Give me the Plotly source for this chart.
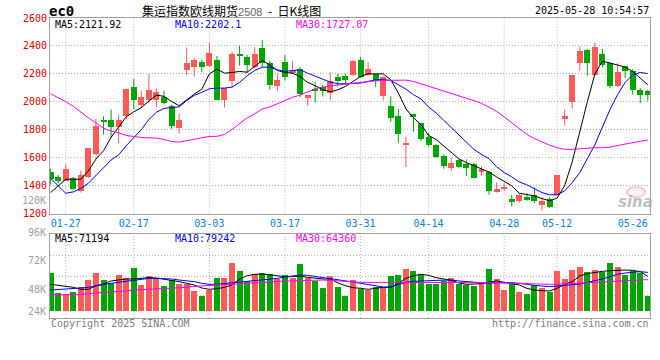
import plotly.graph_objects as go

# ---------------- data ----------------
open_ = [1500, 1459, 1433, 1452, 1360, 1462, 1626, 1873, 1873, 1818,
         1896, 2108, 1980, 2010, 2010, 2034, 1972, 1811, 2231, 2248,
         2286, 2257, 2300, 2015, 2146, 2343, 2319, 2248, 2386, 2276,
         2115, 2286, 2205, 2236, 2034, 2091, 2105, 2063, 2174, 2188,
         2193, 2300, 2193, 2200, 2039, 1972, 1900, 1694, 1915, 1849,
         1747, 1690, 1611, 1528, 1580, 1557, 1557, 1497, 1500, 1355,
         1374, 1303, 1291, 1319, 1334, 1262, 1307, 1334, 1877, 1996,
         2281, 2371, 2193, 2343, 2276, 2115, 2257, 2217, 2086, 2074]
high = [1521, 1478, 1552, 1462, 1507, 1666, 1877, 1896, 1944, 1908,
        2094, 2165, 2080, 2198, 2094, 2080, 1980, 1913, 2388, 2314,
        2300, 2424, 2329, 2098, 2360, 2400, 2336, 2390, 2443, 2295,
        2200, 2336, 2293, 2248, 2046, 2141, 2122, 2212, 2200, 2200,
        2300, 2319, 2283, 2200, 2181, 2039, 1950, 1750, 1915, 1849,
        1778, 1694, 1623, 1600, 1588, 1588, 1564, 1540, 1504, 1421,
        1417, 1334, 1345, 1345, 1386, 1315, 1315, 1476, 1944, 2193,
        2395, 2378, 2424, 2378, 2276, 2276, 2257, 2233, 2098, 2086]
low = [1407, 1417, 1433, 1369, 1350, 1455, 1620, 1766, 1742, 1705,
       1873, 1944, 1956, 1990, 1963, 1980, 1806, 1773, 2188, 2181,
       2210, 2250, 2010, 1960, 2105, 2260, 2205, 2240, 2248, 2086,
       2080, 2153, 2200, 2032, 1972, 1996, 2039, 2013, 2110, 2122,
       2186, 2170, 2186, 2105, 2010, 1856, 1706, 1533, 1785, 1720,
       1678, 1600, 1521, 1504, 1528, 1469, 1450, 1469, 1334, 1350,
       1362, 1250, 1279, 1291, 1274, 1219, 1238, 1334, 1832, 1951,
       2222, 2188, 2188, 2248, 2098, 2105, 2170, 2051, 1991, 2008]
close = [1447, 1433, 1521, 1374, 1478, 1666, 1830, 1854, 1818, 1873,
         2094, 2010, 2034, 2086, 2067, 1991, 1825, 1868, 2281, 2300,
         2248, 2348, 2015, 2098, 2343, 2331, 2267, 2343, 2276, 2122,
         2158, 2181, 2229, 2058, 2046, 2082, 2074, 2150, 2146, 2158,
         2293, 2181, 2236, 2146, 2181, 1884, 1770, 1701, 1891, 1730,
         1694, 1604, 1540, 1559, 1533, 1528, 1452, 1516, 1362, 1374,
         1390, 1279, 1334, 1298, 1291, 1291, 1250, 1476, 1900, 2193,
         2367, 2281, 2395, 2260, 2115, 2210, 2224, 2082, 2046, 2046]

ma5 = [1350, 1398, 1445, 1445, 1445, 1505, 1590, 1650, 1745, 1818,
       1893, 1928, 1958, 2005, 2048, 2039, 2002, 1972, 2015, 2055,
       2090, 2200, 2234, 2205, 2210, 2217, 2212, 2253, 2295, 2264,
       2224, 2210, 2205, 2181, 2139, 2115, 2086, 2072, 2086, 2110,
       2146, 2181, 2200, 2200, 2200, 2158, 2063, 1950, 1885, 1837,
       1759, 1730, 1683, 1640, 1592, 1564, 1540, 1521, 1497, 1462,
       1433, 1398, 1345, 1334, 1326, 1307, 1291, 1310, 1400, 1570,
       1790, 2000, 2200, 2290, 2278, 2264, 2248, 2217, 2170, 2122]
ma10 = [1452, 1398, 1345, 1355, 1379, 1417, 1476, 1528, 1583, 1620,
        1685, 1742, 1801, 1873, 1925, 1953, 1960, 1963, 2008, 2046,
        2067, 2093, 2098, 2098, 2105, 2139, 2186, 2224, 2248, 2248,
        2229, 2217, 2224, 2229, 2205, 2181, 2162, 2141, 2129, 2129,
        2129, 2134, 2146, 2158, 2158, 2153, 2122, 2091, 2051, 2020,
        1963, 1920, 1868, 1816, 1763, 1706, 1659, 1623, 1592, 1535,
        1493, 1462, 1426, 1405, 1379, 1350, 1334, 1334, 1362, 1421,
        1493, 1588, 1692, 1820, 1944, 2051, 2139, 2193, 2210, 2202]
ma30 = [2058, 2032, 2001, 1968, 1925, 1885, 1849, 1811, 1790, 1778,
        1759, 1749, 1744, 1742, 1740, 1730, 1716, 1711, 1721, 1730,
        1742, 1752, 1752, 1766, 1801, 1846, 1885, 1913, 1949, 1963,
        1987, 2010, 2032, 2048, 2072, 2094, 2105, 2110, 2120, 2127,
        2134, 2141, 2146, 2150, 2153, 2155, 2158, 2155, 2146, 2129,
        2115, 2098, 2079, 2063, 2046, 2027, 2008, 1989, 1963, 1932,
        1892, 1849, 1806, 1766, 1737, 1711, 1690, 1671, 1659, 1659,
        1664, 1668, 1671, 1671, 1675, 1687, 1697, 1706, 1716, 1727]

volume = [78600, 37600, 34900, 38400, 49200, 63600, 78600, 63600, 58100, 73900,
          67100, 88900, 53400, 72400, 67100, 51900, 63600, 56000, 56000, 41700,
          31400, 43100, 68300, 68300, 99100, 82700, 62200, 75300, 78600, 75900,
          65000, 73900, 68300, 97100, 67100, 62200, 47800, 72400, 49900, 31400,
          63600, 45100, 43100, 49900, 47800, 71800, 73900, 86200, 82100, 75300,
          55400, 55400, 62200, 67100, 55400, 53400, 51300, 58100, 86200, 65700,
          43100, 55400, 39600, 34900, 53400, 46600, 39600, 82700, 65700, 84100,
          90300, 80600, 84100, 79400, 99100, 90300, 73900, 82700, 77400, 31400]
vol_ma5 = [54700, 52700, 52000, 48600, 44500, 44500, 52000, 55400, 61600, 64300,
           65700, 65700, 67700, 68400, 67700, 65700, 62200, 60200, 56800, 53400,
           47200, 44500, 45800, 48600, 53400, 65700, 72500, 75200, 75900, 73900,
           71100, 70400, 70400, 71800, 69100, 67000, 65700, 65700, 57500, 52000,
           47900, 46500, 44500, 46500, 48600, 48600, 56800, 67000, 72500, 75200,
           73200, 68400, 65000, 62900, 57500, 54700, 55400, 56100, 59500, 61600,
           58800, 56100, 53400, 46500, 43100, 41700, 41000, 46500, 54700, 60200,
           71800, 76600, 79300, 81400, 82800, 84100, 84100, 83400, 80700, 71200]
vol_ma10 = [43100, 43800, 44500, 46500, 47200, 48600, 52000, 54000, 56800, 58800,
            60900, 63600, 65700, 67000, 67000, 66400, 65700, 63600, 62200, 60200,
            56800, 54700, 54700, 56100, 57500, 59500, 61600, 62900, 64300, 65700,
            67000, 69700, 72500, 73900, 73200, 71100, 68400, 67000, 64300, 61600,
            59500, 56800, 54000, 51300, 49200, 49200, 53400, 58800, 60900, 62200,
            62200, 62900, 63600, 63600, 61600, 60200, 59500, 58800, 56800, 58100,
            58800, 58100, 56800, 54000, 52700, 51300, 50000, 51300, 52700, 54000,
            55400, 58800, 61600, 65700, 70400, 75200, 78000, 80000, 80700, 79200]
vol_ma30 = [32800, 32800, 33500, 33500, 34200, 35600, 37600, 38300, 39000, 39700,
            41100, 43100, 43800, 44500, 45200, 45800, 46500, 47900, 48600, 50600,
            52000, 52700, 53400, 54000, 54700, 55400, 56100, 56800, 58100, 59500,
            60900, 61600, 62200, 62200, 62900, 63600, 63600, 62900, 61600, 60200,
            59500, 58800, 58800, 58800, 58800, 58800, 58800, 58800, 58800, 58800,
            59500, 59500, 59500, 59500, 59500, 59500, 59500, 59500, 58800, 58100,
            57500, 56800, 56100, 55400, 54700, 54700, 54700, 54700, 55400, 56100,
            56800, 58100, 59500, 60200, 60900, 61600, 62200, 62900, 62900, 64400]

tick_idx = [2, 11, 21, 31, 41, 50, 60, 67, 77]
tick_labels = ["01-27", "02-17", "03-03", "03-17", "03-31", "04-14", "04-28", "05-12", "05-26"]
price_ticks = [1200, 1400, 1600, 1800, 2000, 2200, 2400, 2600]
vol_tick_labels = ["120K", "96K", "72K", "48K", "24K"]

title_name = "集运指数欧线期货"
title_code = "2508"
title_suffix = "日K线图"
symbol = "ec0"
timestamp = "2025-05-28 10:54:57"
ma_labels = ["MA5:2121.92", "MA10:2202.1", "MA30:1727.07"]
vol_ma_labels = ["MA5:71194", "MA10:79242", "MA30:64360"]

# ---------------- styling ----------------
MONO = "DejaVu Sans Mono"
CJK = "Noto Sans CJK SC"
RED = "#ff5a5a"
GREEN = "#00a600"
MA_COLORS = ["#000000", "#0000ff", "#ff00ff"]
GRID = "#b4b4b4"
BORDER = "#a0a0a0"

W, H = 660, 360
ML, MR, MT, MB = 50, 10, 18, 42
PW, PH = W - ML - MR, H - MT - MB


def px(x):
    return (x - ML) / PW


def py(y):
    return (H - MB - y) / PH


n = len(close)
idx = list(range(n))
up = [c > o for o, c in zip(open_, close)]
colors = [RED if u else GREEN for u in up]

fig = go.Figure()

# wicks
for flag, col in ((True, RED), (False, GREEN)):
    wx, wy = [], []
    for i in idx:
        if up[i] == flag:
            wx += [i, i, None]
            wy += [low[i], high[i], None]
    fig.add_trace(go.Scatter(x=wx, y=wy, mode="lines", line=dict(color=col, width=1),
                             xaxis="x", yaxis="y", hoverinfo="skip"))

# bodies
fig.add_trace(go.Bar(x=idx, y=[max(abs(c - o), 6) for o, c in zip(open_, close)],
                     base=[min(o, c) for o, c in zip(open_, close)],
                     width=0.79, marker=dict(color=colors, line=dict(width=0)),
                     xaxis="x", yaxis="y"))

for series, col in zip((ma5, ma10, ma30), MA_COLORS):
    fig.add_trace(go.Scatter(x=idx, y=series, mode="lines", line=dict(color=col, width=1),
                             xaxis="x", yaxis="y"))

# volume
fig.add_trace(go.Bar(x=idx, y=volume, width=0.79, marker=dict(color=colors, line=dict(width=0)),
                     xaxis="x2", yaxis="y2"))
for series, col in zip((vol_ma5, vol_ma10, vol_ma30), MA_COLORS):
    fig.add_trace(go.Scatter(x=idx, y=series, mode="lines", line=dict(color=col, width=1),
                             xaxis="x2", yaxis="y2"))

xrange = [-0.08, 79.29]
price_dom = [(H - MB - 213.5) / PH, 1]
vol_dom = [0, (H - MB - 234) / PH]
vscale = 2052  # volume units per pixel
vrange = [-7 * vscale, 77 * vscale]

axis_common = dict(showline=True, mirror=True, linecolor=BORDER, linewidth=1, zeroline=False)

fig.update_layout(
    width=W, height=H,
    margin=dict(l=ML, r=MR, t=MT, b=MB, pad=0),
    paper_bgcolor="white", plot_bgcolor="white",
    showlegend=False, barmode="overlay", bargap=0,
    xaxis=dict(domain=[0, 1], anchor="y", range=xrange, tickmode="array",
               tickvals=tick_idx, ticktext=tick_labels, showgrid=False, ticks="",
               tickfont=dict(family=MONO, size=10, color="#0a84d6"),
               rangeslider=dict(visible=False), **axis_common),
    xaxis2=dict(domain=[0, 1], anchor="y2", range=xrange, matches="x",
                showticklabels=False, showgrid=False, ticks="", **axis_common),
    yaxis=dict(domain=price_dom, anchor="x", range=[1200, 2600], tickmode="array",
               tickvals=price_ticks, ticktext=[str(v) for v in price_ticks],
               showgrid=True, gridcolor=GRID, griddash="1px,2px", gridwidth=1, ticks="",
               tickfont=dict(family=MONO, size=10, color="#e00000"), **axis_common),
    yaxis2=dict(domain=vol_dom, anchor="x2", range=vrange, tickmode="array",
                tickvals=[16 * vscale, 35 * vscale, 56 * vscale], showticklabels=False,
                showgrid=True, gridcolor=GRID, griddash="1px,2px", gridwidth=1, ticks="",
                **axis_common),
)

shapes = []
for t in tick_idx[:-1]:
    for yr in ("y domain", "y2 domain"):
        shapes.append(dict(type="line", xref="x", yref=yr, x0=t, x1=t, y0=0, y1=1,
                           line=dict(color=GRID, width=1, dash="1px,2px"), layer="below"))
# faint sina logo eye
shapes.append(dict(type="circle", xref="paper", yref="paper",
                   x0=px(627), x1=px(645), y0=py(197), y1=py(187),
                   line=dict(color="rgba(240,120,120,0.35)", width=2),
                   fillcolor="rgba(240,160,160,0.15)"))
fig.update_layout(shapes=shapes)


def ann(text, x, y, color="#000", size=10, xanchor="left", family=MONO, **font_extra):
    return dict(text=text, x=px(x), y=py(y), xref="paper", yref="paper",
                xanchor=xanchor, yanchor="middle", showarrow=False,
                font=dict(family=family, size=size, color=color, **font_extra))


anns = [
    ann(symbol, 47, 11, size=14, weight="bold"),
    ann(title_name + "<span style='color:#666;font-family:Liberation Sans;font-size:11px'>"
        + title_code + "</span>\u00a0\u00a0-\u00a0\u00a0" + title_suffix,
        140, 10, size=12, family=CJK),
    ann(timestamp, 651, 11, xanchor="right"),
]
for lab, col, x in zip(ma_labels, MA_COLORS, (53, 173, 294)):
    anns.append(ann(lab, x, 24, color=col))
for lab, col, x in zip(vol_ma_labels, MA_COLORS, (53, 173, 294)):
    anns.append(ann(lab, x, 238.5, color=col))
for lab, y in zip(vol_tick_labels, (200.5, 232.5, 260.5, 289, 311)):
    anns.append(ann(lab, 47.5, y, color="#a0a0a0", xanchor="right"))
anns.append(ann("Copyright 2025 SINA.COM", 49, 323.5, color="#808080"))
anns.append(ann("http://finance.sina.com.cn", 651, 323.5, color="#808080", xanchor="right"))
anns.append(ann("sina", 635, 202, color="rgba(170,170,170,0.75)", size=15, xanchor="center",
                family="DejaVu Sans", weight="bold", style="italic"))
fig.update_layout(annotations=anns)

fig.write_html("out.html", config={"displayModeBar": False},
               post_script="document.body.style.margin='0';")
